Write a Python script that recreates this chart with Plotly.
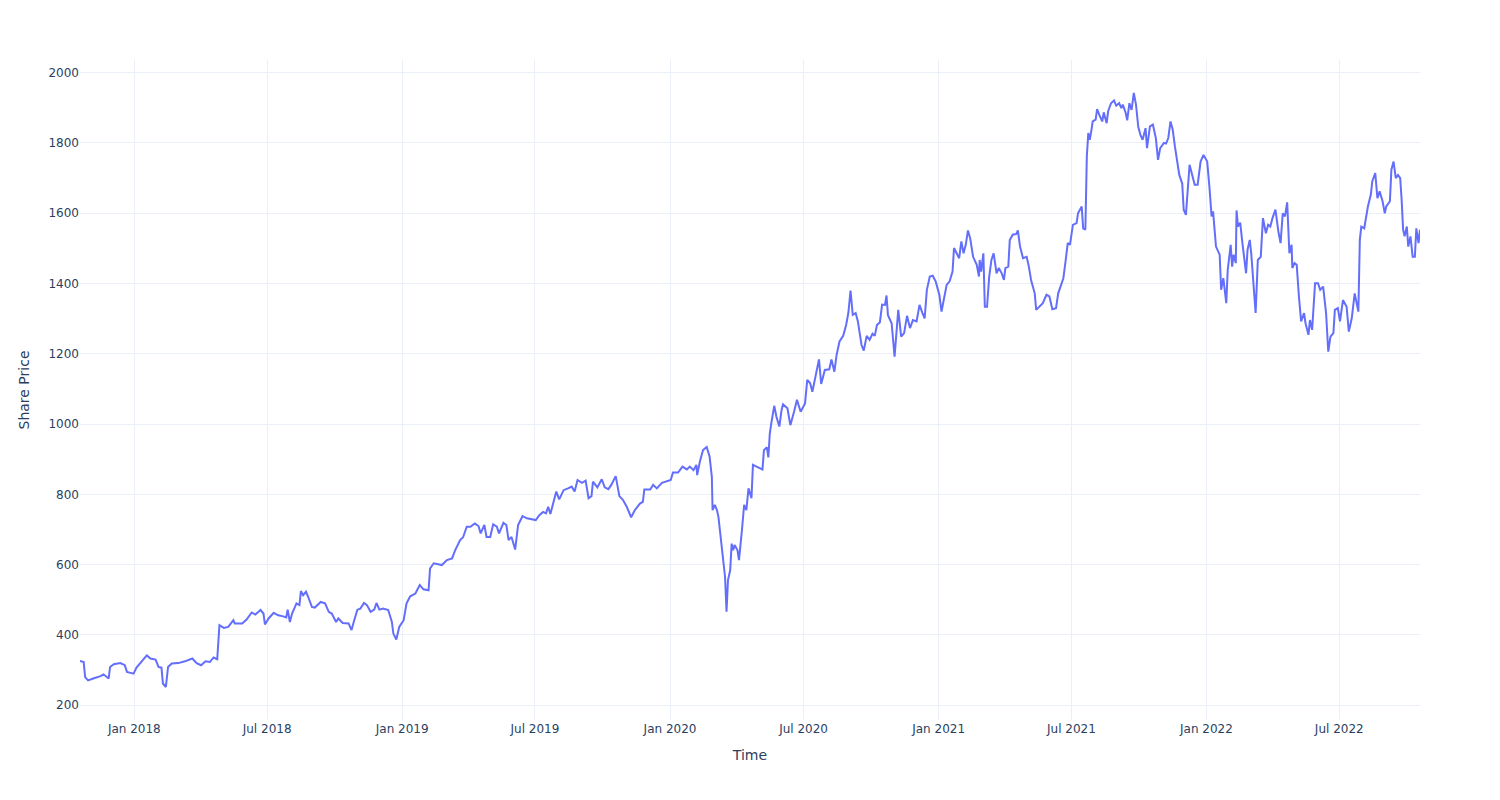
import plotly.graph_objects as go

dates = [
    "2017-10-19", "2017-10-24", "2017-10-26", "2017-10-30", "2017-11-07", "2017-11-16", "2017-11-20",
    "2017-11-24", "2017-11-27", "2017-11-29", "2017-12-04", "2017-12-13", "2017-12-19", "2017-12-22",
    "2017-12-31", "2018-01-04", "2018-01-09", "2018-01-18", "2018-01-23", "2018-01-30", "2018-02-03",
    "2018-02-07", "2018-02-09", "2018-02-13", "2018-02-16", "2018-02-21", "2018-03-02", "2018-03-11",
    "2018-03-21", "2018-03-27", "2018-04-02", "2018-04-08", "2018-04-14", "2018-04-19", "2018-04-24",
    "2018-04-27", "2018-05-03", "2018-05-09", "2018-05-16", "2018-05-18", "2018-05-28", "2018-06-03",
    "2018-06-10", "2018-06-15", "2018-06-22", "2018-06-26", "2018-06-28", "2018-07-03", "2018-07-10",
    "2018-07-16", "2018-07-23", "2018-07-27", "2018-07-29", "2018-08-01", "2018-08-04", "2018-08-10",
    "2018-08-14", "2018-08-16", "2018-08-19", "2018-08-23", "2018-08-26", "2018-08-31", "2018-09-04",
    "2018-09-12", "2018-09-18", "2018-09-23", "2018-09-27", "2018-10-03", "2018-10-06", "2018-10-12",
    "2018-10-20", "2018-10-24", "2018-10-27", "2018-11-01", "2018-11-05", "2018-11-10", "2018-11-14",
    "2018-11-19", "2018-11-24", "2018-11-27", "2018-12-01", "2018-12-06", "2018-12-13", "2018-12-18",
    "2018-12-20", "2018-12-24", "2018-12-28", "2019-01-03", "2019-01-07", "2019-01-12", "2019-01-19",
    "2019-01-25", "2019-01-30", "2019-02-06", "2019-02-08", "2019-02-13", "2019-02-24", "2019-03-03",
    "2019-03-10", "2019-03-14", "2019-03-21", "2019-03-25", "2019-03-30", "2019-04-04", "2019-04-10",
    "2019-04-15", "2019-04-18", "2019-04-23", "2019-04-26", "2019-05-01", "2019-05-05", "2019-05-10",
    "2019-05-13", "2019-05-19", "2019-05-23", "2019-05-26", "2019-05-30", "2019-06-04", "2019-06-08",
    "2019-06-14", "2019-06-20", "2019-06-27", "2019-07-02", "2019-07-07", "2019-07-12", "2019-07-16",
    "2019-07-19", "2019-07-22", "2019-07-26", "2019-07-30", "2019-08-03", "2019-08-09", "2019-08-15",
    "2019-08-20", "2019-08-24", "2019-08-28", "2019-09-03", "2019-09-08", "2019-09-12", "2019-09-16",
    "2019-09-18", "2019-09-24", "2019-09-30", "2019-10-04", "2019-10-09", "2019-10-13", "2019-10-19",
    "2019-10-24", "2019-10-29", "2019-11-03", "2019-11-09", "2019-11-14", "2019-11-21", "2019-11-25",
    "2019-11-27", "2019-12-05", "2019-12-09", "2019-12-14", "2019-12-21", "2019-12-27", "2020-01-02",
    "2020-01-05", "2020-01-12", "2020-01-18", "2020-01-24", "2020-01-28", "2020-02-02", "2020-02-06",
    "2020-02-07", "2020-02-11", "2020-02-15", "2020-02-20", "2020-02-24", "2020-02-27", "2020-02-28",
    "2020-03-02", "2020-03-05", "2020-03-07", "2020-03-09", "2020-03-11", "2020-03-14", "2020-03-16",
    "2020-03-18", "2020-03-20", "2020-03-23", "2020-03-25", "2020-03-27", "2020-03-29", "2020-04-02",
    "2020-04-04", "2020-04-08", "2020-04-11", "2020-04-14", "2020-04-17", "2020-04-21", "2020-04-23",
    "2020-04-30", "2020-05-06", "2020-05-08", "2020-05-12", "2020-05-14", "2020-05-16", "2020-05-18",
    "2020-05-22", "2020-05-25", "2020-05-29", "2020-06-01", "2020-06-03", "2020-06-09", "2020-06-13",
    "2020-06-18", "2020-06-22", "2020-06-27", "2020-07-03", "2020-07-06", "2020-07-10", "2020-07-13",
    "2020-07-18", "2020-07-22", "2020-07-25", "2020-07-30", "2020-08-05", "2020-08-08", "2020-08-12",
    "2020-08-15", "2020-08-19", "2020-08-24", "2020-08-28", "2020-08-31", "2020-09-03", "2020-09-06",
    "2020-09-10", "2020-09-13", "2020-09-18", "2020-09-21", "2020-09-25", "2020-09-29", "2020-10-03",
    "2020-10-06", "2020-10-09", "2020-10-13", "2020-10-16", "2020-10-20", "2020-10-22", "2020-10-24",
    "2020-10-29", "2020-11-02", "2020-11-07", "2020-11-11", "2020-11-15", "2020-11-19", "2020-11-23",
    "2020-11-27", "2020-12-02", "2020-12-06", "2020-12-10", "2020-12-13", "2020-12-16", "2020-12-20",
    "2020-12-24", "2020-12-28", "2021-01-02", "2021-01-05", "2021-01-08", "2021-01-12", "2021-01-16",
    "2021-01-20", "2021-01-22", "2021-01-26", "2021-01-29", "2021-02-01", "2021-02-04", "2021-02-07",
    "2021-02-10", "2021-02-13", "2021-02-17", "2021-02-22", "2021-02-25", "2021-02-26", "2021-02-28",
    "2021-03-03", "2021-03-05", "2021-03-08", "2021-03-11", "2021-03-14", "2021-03-17", "2021-03-21",
    "2021-03-24", "2021-03-28", "2021-03-31", "2021-04-02", "2021-04-06", "2021-04-08", "2021-04-12",
    "2021-04-17", "2021-04-19", "2021-04-22", "2021-04-26", "2021-05-01", "2021-05-04", "2021-05-07",
    "2021-05-12", "2021-05-14", "2021-05-18", "2021-05-23", "2021-05-28", "2021-06-01", "2021-06-05",
    "2021-06-10", "2021-06-13", "2021-06-16", "2021-06-20", "2021-06-23", "2021-06-26", "2021-06-29",
    "2021-07-01", "2021-07-03", "2021-07-08", "2021-07-10", "2021-07-15", "2021-07-17", "2021-07-20",
    "2021-07-22", "2021-07-24", "2021-07-26", "2021-07-28", "2021-07-30", "2021-08-03", "2021-08-05",
    "2021-08-08", "2021-08-12", "2021-08-14", "2021-08-18", "2021-08-20", "2021-08-24", "2021-08-28",
    "2021-08-31", "2021-09-04", "2021-09-07", "2021-09-09", "2021-09-13", "2021-09-15", "2021-09-18",
    "2021-09-21", "2021-09-24", "2021-09-27", "2021-09-30", "2021-10-03", "2021-10-06", "2021-10-10",
    "2021-10-12", "2021-10-16", "2021-10-20", "2021-10-24", "2021-10-27", "2021-10-30", "2021-11-04",
    "2021-11-07", "2021-11-10", "2021-11-13", "2021-11-16", "2021-11-19", "2021-11-22", "2021-11-25",
    "2021-11-29", "2021-12-01", "2021-12-04", "2021-12-07", "2021-12-09", "2021-12-13", "2021-12-16",
    "2021-12-20", "2021-12-24", "2021-12-28", "2022-01-02", "2022-01-05", "2022-01-08", "2022-01-10",
    "2022-01-12", "2022-01-14", "2022-01-19", "2022-01-21", "2022-01-24", "2022-01-28", "2022-01-30",
    "2022-02-03", "2022-02-05", "2022-02-07", "2022-02-10", "2022-02-11", "2022-02-13", "2022-02-16",
    "2022-02-19", "2022-02-24", "2022-02-26", "2022-03-01", "2022-03-03", "2022-03-06", "2022-03-09",
    "2022-03-12", "2022-03-16", "2022-03-19", "2022-03-23", "2022-03-26", "2022-03-29", "2022-04-01",
    "2022-04-05", "2022-04-09", "2022-04-12", "2022-04-15", "2022-04-18", "2022-04-21", "2022-04-24",
    "2022-04-27", "2022-04-28", "2022-05-01", "2022-05-04", "2022-05-07", "2022-05-10", "2022-05-14",
    "2022-05-16", "2022-05-20", "2022-05-22", "2022-05-25", "2022-05-29", "2022-06-02", "2022-06-05",
    "2022-06-09", "2022-06-13", "2022-06-16", "2022-06-19", "2022-06-23", "2022-06-25", "2022-06-29",
    "2022-07-02", "2022-07-06", "2022-07-11", "2022-07-14", "2022-07-18", "2022-07-22", "2022-07-25",
    "2022-07-27", "2022-07-29", "2022-07-31", "2022-08-04", "2022-08-06", "2022-08-09", "2022-08-13",
    "2022-08-15", "2022-08-19", "2022-08-22", "2022-08-25", "2022-08-29", "2022-09-01", "2022-09-03",
    "2022-09-08", "2022-09-10", "2022-09-13", "2022-09-16", "2022-09-19", "2022-09-22", "2022-09-24",
    "2022-09-26", "2022-09-28", "2022-10-01", "2022-10-03", "2022-10-06", "2022-10-09", "2022-10-12",
    "2022-10-14", "2022-10-17", "2022-10-19",
]

share_price = [
    326, 323, 280, 271, 277, 283, 288,
    282, 276, 309, 317, 320, 314, 295,
    290, 307, 319, 342, 333, 330, 309,
    307, 262, 252, 309, 319, 320, 325,
    333, 320, 314, 325, 323, 336, 331,
    428, 420, 423, 442, 433, 433, 444,
    464, 458, 471, 461, 430, 447, 463,
    456, 453, 450, 472, 437, 461, 490,
    485, 525, 513, 523, 508, 480, 478,
    494, 490, 466, 461, 437, 447, 434,
    433, 414, 437, 472, 475, 491, 485,
    466, 472, 491, 472, 475, 471, 437,
    404, 387, 423, 442, 490, 510, 518,
    542, 530, 527, 589, 604, 599, 613,
    618, 640, 670, 678, 708, 708, 717,
    710, 689, 713, 679, 679, 715, 708,
    689, 719, 713, 670, 679, 643, 713,
    738, 732, 729, 727, 741, 750, 746,
    765, 744, 779, 808, 786, 812, 817,
    822, 808, 841, 833, 839, 789, 795,
    836, 820, 843, 820, 815, 827, 852,
    795, 784, 765, 735, 755, 774, 779,
    814, 814, 827, 817, 833, 836, 841,
    862, 862, 879, 871, 879, 869, 884,
    855, 896, 926, 935, 907, 850, 755,
    770, 755, 736, 698, 660, 604, 565,
    466, 556, 584, 660, 641, 656, 641,
    613, 698, 770, 755, 817, 789, 884,
    877, 871, 926, 934, 905, 974, 1002,
    1052, 1021, 993, 1040, 1056, 1045, 997,
    1035, 1069, 1035, 1059, 1126, 1116, 1092,
    1145, 1184, 1114, 1154, 1156, 1184, 1149,
    1197, 1235, 1251, 1282, 1316, 1380, 1311,
    1316, 1292, 1225, 1209, 1251, 1240, 1257,
    1251, 1282, 1290, 1340, 1339, 1366, 1310,
    1287, 1192, 1325, 1249, 1259, 1308, 1273,
    1296, 1292, 1339, 1316, 1301, 1382, 1420,
    1422, 1406, 1368, 1320, 1353, 1396, 1406,
    1434, 1501, 1486, 1472, 1520, 1486, 1510,
    1551, 1529, 1476, 1453, 1420, 1467, 1434,
    1486, 1334, 1334, 1420, 1467, 1486, 1429,
    1444, 1429, 1410, 1444, 1448, 1524, 1539,
    1541, 1551, 1505, 1472, 1476, 1448, 1410,
    1372, 1325, 1334, 1344, 1368, 1363, 1327,
    1330, 1372, 1391, 1415, 1463, 1515, 1510,
    1548, 1567, 1572, 1600, 1619, 1557, 1553,
    1762, 1828, 1809, 1833, 1861, 1866, 1896,
    1880, 1861, 1887, 1856, 1890, 1913, 1921,
    1906, 1913, 1899, 1909, 1885, 1864, 1913,
    1894, 1942, 1909, 1847, 1823, 1809, 1842,
    1785, 1847, 1852, 1814, 1752, 1785, 1800,
    1798, 1814, 1861, 1838, 1790, 1747, 1709,
    1684, 1610, 1595, 1695, 1738, 1705, 1681,
    1681, 1747, 1766, 1747, 1676, 1591, 1605,
    1543, 1505, 1482, 1382, 1415, 1344, 1439,
    1510, 1448, 1482, 1458, 1608, 1562, 1573,
    1515, 1429, 1496, 1524, 1486, 1410, 1316,
    1467, 1476, 1586, 1543, 1567, 1562, 1586,
    1610, 1548, 1515, 1600, 1591, 1631, 1486,
    1510, 1444, 1458, 1453, 1363, 1292, 1316,
    1287, 1254, 1296, 1268, 1401, 1401, 1382,
    1391, 1316, 1206, 1249, 1259, 1325, 1330,
    1292, 1353, 1334, 1263, 1301, 1372, 1344,
    1320, 1524, 1562, 1557, 1586, 1619, 1653,
    1691, 1714, 1643, 1662, 1634, 1600, 1619,
    1634, 1724, 1747, 1700, 1709, 1700, 1638,
    1553, 1534, 1562, 1505, 1534, 1476, 1476,
    1557, 1515, 1553,
]

fig = go.Figure()
fig.add_trace(go.Scatter(x=dates, y=share_price, mode="lines",
                         line=dict(color="#636efa", width=2)))
fig.update_layout(
    template="plotly_white",
    width=1500, height=800,
    font=dict(family="DejaVu Sans"),
    margin=dict(l=80, r=80, t=60, b=80),
    xaxis=dict(title=dict(text="Time")),
    yaxis=dict(title=dict(text="Share Price")),
    showlegend=False,
)
fig.write_html("out.html")
